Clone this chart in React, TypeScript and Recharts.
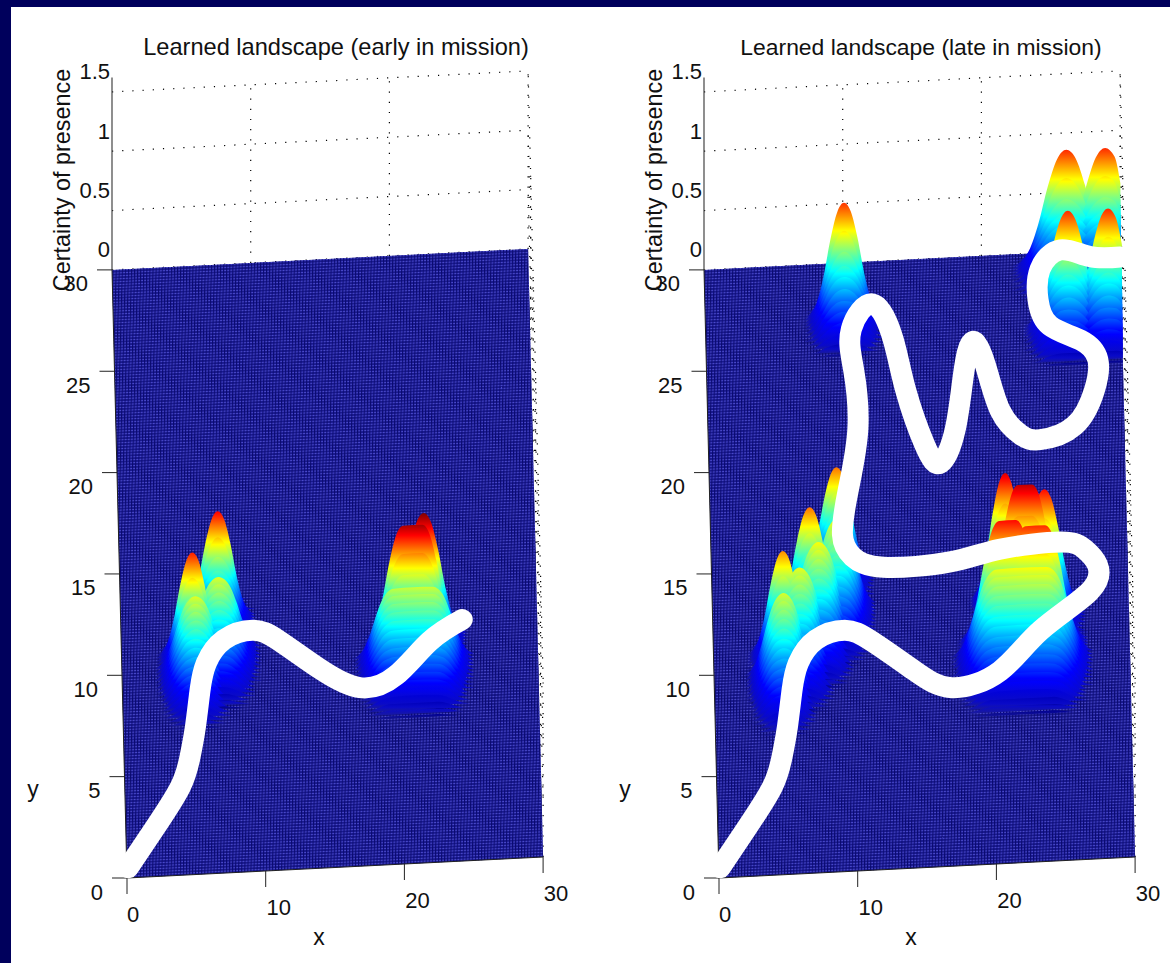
import React from 'react';
import { ComposedChart, Area, Line, XAxis, YAxis, ReferenceDot } from 'recharts';

// ---- axis ticks (landscape units) ----
const xTicks = [0, 10, 20, 30];
const yTicks = [0, 5, 10, 15, 20, 25, 30];
const zTicks = [0, 0.5, 1, 1.5];

// ---- robot paths (x, y on the floor) ----
const pathEarly = [
  [0.1, 0.5], [2.1, 2.4], [4.0, 4.35], [4.75, 5.8], [5.2, 7.3], [5.6, 9.1], [6.1, 10.4], [7.4, 11.5], [9.5, 11.9],
  [11.4, 11.3], [14.3, 9.8], [17.1, 8.8], [19.7, 9.3], [22.2, 10.9], [24.6, 11.9],
];
const pathLate = [
  [0.1, 0.5], [2.1, 2.4], [4.0, 4.35], [4.75, 5.8], [5.2, 7.3], [5.6, 9.1], [6.1, 10.4], [7.4, 11.5], [9.5, 11.9],
  [11.4, 11.3], [14.3, 9.8], [17.1, 8.8], [20.6, 9.5], [23.6, 11.4], [27.2, 13.2], [27.8, 14.5], [26.9, 15.3],
  [25.2, 15.7], [20.8, 15.5], [17.2, 15.0], [12.4, 14.9], [10.2, 15.5], [9.5, 16.6], [10.0, 18.8], [10.8, 21.8],
  [10.6, 24.7], [10.5, 26.7], [12.1, 27.9], [13.5, 26.1], [14.3, 23.6], [15.6, 20.8], [16.7, 19.9], [17.8, 21.5],
  [18.5, 24.2], [19.2, 25.8], [20.1, 24.6], [21.1, 22.3], [22.5, 21.1], [23.9, 20.8], [26.4, 21.4], [27.9, 23.1],
  [28.2, 24.6], [27.0, 25.6], [24.8, 26.4], [24.0, 27.7], [24.2, 29.2], [25.7, 30.1], [27.8, 29.7], [30.0, 29.6],
];

// ---- height profiles read from the hills: [y offset, heights at |x offset|] ----
const peakDx = [0, 0.5, 1, 1.5, 2, 2.5, 3];
const peakRows = [
  [1.0, 0.08, 0.06, 0.03, 0.01, 0, 0, 0],
  [0.75, 0.2, 0.16, 0.09, 0.03, 0.01, 0, 0],
  [0.5, 0.42, 0.36, 0.22, 0.08, 0.02, 0, 0],
  [0.25, 0.75, 0.66, 0.44, 0.2, 0.06, 0.01, 0],
  [0, 1, 0.92, 0.68, 0.36, 0.13, 0.03, 0],
  [-0.15, 0.78, 0.72, 0.56, 0.33, 0.14, 0.04, 0],
  [-0.3, 0.62, 0.58, 0.47, 0.3, 0.14, 0.04, 0],
  [-0.45, 0.52, 0.49, 0.41, 0.27, 0.13, 0.04, 0],
  [-0.6, 0.45, 0.43, 0.36, 0.24, 0.12, 0.03, 0],
  [-0.8, 0.38, 0.36, 0.3, 0.2, 0.1, 0.03, 0],
  [-1.0, 0.31, 0.3, 0.25, 0.17, 0.08, 0.02, 0],
  [-1.2, 0.25, 0.24, 0.2, 0.14, 0.06, 0.02, 0],
  [-1.4, 0.19, 0.18, 0.15, 0.1, 0.05, 0.01, 0],
  [-1.6, 0.13, 0.12, 0.1, 0.07, 0.03, 0, 0],
  [-1.8, 0.07, 0.07, 0.06, 0.04, 0.01, 0, 0],
  [-2.0, 0.02, 0.02, 0.02, 0.01, 0, 0, 0],
];
const domeDx = [0, 0.5, 1, 1.5, 2, 2.5, 3, 3.5];
const domeRows = [
  [0, 1, 0.96, 0.84, 0.62, 0.36, 0.16, 0.05, 0],
  [-0.19, 0.95, 0.91, 0.8, 0.6, 0.36, 0.17, 0.05, 0],
  [-0.38, 0.89, 0.85, 0.75, 0.57, 0.35, 0.17, 0.05, 0],
  [-0.56, 0.82, 0.79, 0.7, 0.53, 0.34, 0.16, 0.05, 0],
  [-0.75, 0.75, 0.72, 0.64, 0.49, 0.32, 0.15, 0.04, 0],
  [-0.94, 0.67, 0.65, 0.58, 0.44, 0.29, 0.14, 0.04, 0],
  [-1.13, 0.6, 0.58, 0.51, 0.4, 0.26, 0.12, 0.03, 0],
  [-1.31, 0.52, 0.5, 0.45, 0.35, 0.22, 0.1, 0.02, 0],
  [-1.5, 0.45, 0.43, 0.39, 0.3, 0.18, 0.08, 0.01, 0],
  [-1.69, 0.38, 0.37, 0.33, 0.25, 0.15, 0.06, 0.01, 0],
  [-1.88, 0.32, 0.31, 0.27, 0.2, 0.12, 0.04, 0, 0],
  [-2.06, 0.26, 0.25, 0.22, 0.16, 0.09, 0.03, 0, 0],
  [-2.25, 0.2, 0.19, 0.17, 0.12, 0.06, 0.02, 0, 0],
  [-2.44, 0.15, 0.14, 0.12, 0.08, 0.04, 0.01, 0, 0],
  [-2.63, 0.1, 0.1, 0.08, 0.05, 0.02, 0, 0, 0],
  [-2.81, 0.06, 0.06, 0.05, 0.03, 0.01, 0, 0, 0],
  [-3, 0.03, 0.03, 0.02, 0.01, 0, 0, 0, 0],
];

// ---- hills: [kind, x, y, height, width factor, half length of the flat top] ----
type Hill = [string, number, number, number, number, number?];
const hillsEarly: Hill[] = [
  ['peak', 7, 12.7, 0.88, 0.92], ['peak', 5.1, 10.9, 0.85, 0.88],
  ['dome', 7, 11.1, 0.6, 0.88], ['dome', 5.3, 10.2, 0.6, 0.85],
  ['peak', 21, 11.05, 0.96, 1.0, 0.7], ['peak', 21.8, 11.4, 1, 1.05],
  ['dome', 21, 10.2, 0.58, 0.85, 1.4],
];
const hillsLate: Hill[] = [
  ['peak', 10, 27.4, 0.95, 0.98],
  ['peak', 26.1, 29.4, 0.96, 1.35], ['peak', 28.9, 29.4, 0.96, 1.35],
  ['peak', 26.1, 26.4, 0.96, 1.1], ['peak', 29, 26.4, 0.96, 1.1],
  ['peak', 9, 14.8, 0.88, 0.92], ['peak', 7, 12.9, 0.88, 0.92], ['peak', 5, 10.98, 0.85, 0.88],
  ['dome', 9, 13.2, 0.72, 0.8], ['dome', 7.6, 12.1, 0.72, 0.85], ['dome', 6.2, 11, 0.7, 0.85], ['dome', 5, 9.9, 0.68, 0.8],
  ['peak', 21.1, 13.1, 1.05, 0.9], ['peak', 22.5, 12.3, 1.08, 1, 0.5], ['peak', 23.9, 12.5, 1, 1],
  ['peak', 21.2, 11.05, 1.0, 1.05, 0.6], ['peak', 23.2, 10.95, 0.96, 1.05, 0.7],
  ['dome', 22.2, 10.3, 0.72, 0.95, 1.8],
];

const PANEL_W = 592;
const PANEL_H = 963;
const FONT = '"Liberation Sans", Arial, sans-serif';
const PLANE = '#1b1b98';

const project = (x: number, y: number, z = 0) => ({
  sx: 127 + 13.87 * x - 0.5 * y,
  sy: 878 - 0.7 * x - 20.27 * y - 118.7 * z,
});

const jet = (t: number) => {
  const c = (v: number) => Math.round(255 * Math.max(0, Math.min(1, v)));
  const r = 1.5 - Math.abs(4 * t - 3);
  const g = 1.5 - Math.abs(4 * t - 2);
  const b = 1.5 - Math.abs(4 * t - 1);
  return `rgb(${c(r)},${c(g)},${c(b)})`;
};

function buildRibbons(hills: Hill[], prefix: string) {
  const out: any[] = [];
  hills.forEach(([kind, hx, hy, amp, wx, flat = 0], h) => {
    const half = kind === 'peak' ? peakDx : domeDx;
    const rows = kind === 'peak' ? peakRows : domeRows;
    const n = half.length;
    rows.forEach((row, r) => {
      const Y = hy + row[0];
      if (Y > 30) return;
      const pts: any[] = [];
      let zMax = 0;
      let done = false;
      const add = (X0: number, col: number) => {
        if (done) return;
        let X = X0;
        if (X >= 30) { X = 30; done = true; }
        const z = row[col + 1] * amp;
        zMax = Math.max(zMax, z);
        const top = project(X, Y, z);
        const base = project(X, Y, 0);
        pts.push({ sx: top.sx, range: [top.sy, base.sy] });
      };
      for (let i = n - 1; i >= 0; i--) add(hx - flat - half[i] * wx, i);
      for (let i = flat > 0 ? 0 : 1; i < n; i++) add(hx + flat + half[i] * wx, i);
      if (zMax > 0) out.push({ id: `${prefix}-${h}-${r}`, Y, pts, zMax });
    });
  });
  out.sort((a, b) => b.Y - a.Y);
  return out;
}

function gradientStops(zMax: number, cmax: number) {
  const stops: { offset: number; color: string }[] = [];
  const marks = [0, 0.03, 0.125, 0.25, 0.375, 0.5, 0.625, 0.75, 0.875, 1];
  stops.push({ offset: 0, color: jet(zMax / cmax) });
  [...marks].reverse().forEach((t) => {
    const z = t * cmax;
    if (z < zMax) {
      const color = t === 0 ? PLANE : t === 0.03 ? 'rgb(10,10,200)' : jet(t);
      stops.push({ offset: 1 - z / zMax, color });
    }
  });
  return stops;
}

const seg = (pts: number[][]) => pts.map(([x, y, z]) => project(x, y, z ?? 0));

const TextMark = ({ cx, cy, text, anchor = 'middle', angle = 0, size = 22 }: any) => (
  <text
    x={cx}
    y={cy}
    textAnchor={anchor}
    dominantBaseline="central"
    fontFamily={FONT}
    fontSize={size}
    fill="#111"
    transform={angle ? `rotate(${angle} ${cx} ${cy})` : undefined}
  >
    {text}
  </text>
);

function Panel({ title, titleX, titleSize, hills, path, cmax, id }: any) {
  const ribbons = buildRibbons(hills, id);
  const lineProps = { dataKey: 'sy', dot: false, isAnimationActive: false, legendType: 'none' as const, activeDot: false };

  const grid: any[][] = [];
  zTicks.forEach((z) => grid.push(seg([[0, 30, z], [30, 30, z]])));
  [10, 20].forEach((x) => grid.push(seg([[x, 30, 0], [x, 30, 1.5]])));
  zTicks.slice(1).forEach((z) => grid.push(seg([[30, 0, z], [30, 30, z]])));
  yTicks.forEach((y) => grid.push(seg([[30, y, 0], [30, y, 1.5]])));

  const tl = project(0, 30), bl = project(0, 0), tr = project(30, 30), br = project(30, 0);
  const topAt = (s: number) => tl.sy + ((tr.sy - tl.sy) * (s - tl.sx)) / (tr.sx - tl.sx);
  const botAt = (s: number) => bl.sy + ((br.sy - bl.sy) * (s - bl.sx)) / (br.sx - bl.sx);
  const leftAt = (s: number) => tl.sy + ((bl.sy - tl.sy) * (s - tl.sx)) / (bl.sx - tl.sx);
  const rightAt = (s: number) => tr.sy + ((br.sy - tr.sy) * (s - tr.sx)) / (br.sx - tr.sx);
  const planeData = [
    { sx: tl.sx, range: [tl.sy, tl.sy] },
    { sx: bl.sx, range: [topAt(bl.sx), leftAt(bl.sx)] },
    { sx: tr.sx, range: [tr.sy, botAt(tr.sx)] },
    { sx: br.sx, range: [rightAt(br.sx), br.sy] },
  ];

  const tick = (a: any, dx: number, dy: number) => [a, { sx: a.sx + dx, sy: a.sy + dy }];
  const areaProps = { dataKey: 'range', fillOpacity: 1, stroke: 'none', isAnimationActive: false, dot: false, activeDot: false };

  return (
    <ComposedChart width={PANEL_W} height={PANEL_H} margin={{ top: 0, right: 0, bottom: 0, left: 0 }} data={[]}>
      <XAxis dataKey="sx" type="number" domain={[0, PANEL_W]} hide />
      <YAxis type="number" domain={[0, PANEL_H]} reversed hide />
      <defs>
        <pattern id={`${id}-meshH`} patternUnits="userSpaceOnUse" width={40} height={2.93} patternTransform="skewY(-2.87)">
          <rect x={0} y={0} width={40} height={1} fill="#4a4acc" />
        </pattern>
        <pattern id={`${id}-meshV`} patternUnits="userSpaceOnUse" width={3.07} height={40} patternTransform="skewX(-1.5)">
          <rect x={0} y={0} width={1} height={40} fill="#0a0a70" />
        </pattern>
        {ribbons.map((r) => (
          <linearGradient key={r.id} id={r.id} x1="0" y1="0" x2="0" y2="1">
            {gradientStops(r.zMax, cmax).map((s, i) => (
              <stop key={i} offset={s.offset} stopColor={s.color} />
            ))}
          </linearGradient>
        ))}
      </defs>

      {grid.map((d, i) => (
        <Line key={`g${i}`} data={d} {...lineProps} stroke="#000" strokeWidth={1.2} strokeDasharray="1.2 9" zIndex={10} />
      ))}
      <Area data={planeData} {...areaProps} type="linear" fill="#19198f" zIndex={20} />
      <Area data={planeData} {...areaProps} type="linear" fill={`url(#${id}-meshH)`} zIndex={21} />
      <Area data={planeData} {...areaProps} type="linear" fill={`url(#${id}-meshV)`} zIndex={22} />
      {ribbons.map((r) => (
        <Area key={r.id} data={r.pts} {...areaProps} type="monotone" fill={`url(#${r.id})`} zIndex={30} />
      ))}

      <Line data={seg([[0, 0], [30, 0]])} {...lineProps} stroke="#222" strokeWidth={1} zIndex={40} />
      <Line data={seg([[0, 0], [0, 30]])} {...lineProps} stroke="#222" strokeWidth={1} zIndex={40} />
      <Line data={seg([[0, 30, 0], [0, 30, 1.62]])} {...lineProps} stroke="#444" strokeWidth={1.2} zIndex={40} />
      {xTicks.map((x) => (
        <Line key={`xt${x}`} data={tick(project(x, 0), 0, 16)} {...lineProps} stroke="#222" strokeWidth={1} zIndex={40} />
      ))}
      {yTicks.map((y) => (
        <Line key={`yt${y}`} data={tick(project(0, y), -15, 0)} {...lineProps} stroke="#222" strokeWidth={1} zIndex={40} />
      ))}

      <Line data={path.map(([x, y]: number[]) => project(x, y))} {...lineProps} type="natural" stroke="#fff" strokeWidth={21} strokeLinecap="round" strokeLinejoin="round" zIndex={50} />

      {xTicks.map((x) => {
        const p = project(x, 0);
        return (
          <ReferenceDot key={`xl${x}`} x={p.sx + (x === 0 ? 6 : 13)} y={p.sy + 36} r={0} zIndex={60}
            shape={(s: any) => <TextMark {...s} text={String(x)} />} />
        );
      })}
      {yTicks.map((y) => {
        const p = project(0, y);
        return (
          <ReferenceDot key={`yl${y}`} x={p.sx - 24} y={p.sy + 14} r={0} zIndex={60}
            shape={(s: any) => <TextMark {...s} text={String(y)} anchor="end" />} />
        );
      })}
      {zTicks.map((z) => {
        const p = project(0, 30, z);
        return (
          <ReferenceDot key={`zl${z}`} x={p.sx - 2} y={p.sy - 20} r={0} zIndex={60}
            shape={(s: any) => <TextMark {...s} text={String(z)} anchor="end" />} />
        );
      })}
      <ReferenceDot x={titleX} y={47} r={0} zIndex={60} shape={(s: any) => <TextMark {...s} text={title} size={titleSize} />} />
      <ReferenceDot x={319} y={937} r={0} zIndex={60} shape={(s: any) => <TextMark {...s} text="x" size={23} />} />
      <ReferenceDot x={33} y={789} r={0} zIndex={60} shape={(s: any) => <TextMark {...s} text="y" size={23} />} />
      <ReferenceDot x={62} y={180} r={0} zIndex={60} shape={(s: any) => <TextMark {...s} text="Certainty of presence" angle={-90} size={23.4} />} />
    </ComposedChart>
  );
}

export default function App() {
  return (
    <div style={{ position: 'absolute', left: 0, top: 0, width: 1170, height: 963, background: '#00005c', overflow: 'hidden' }}>
      <div style={{ position: 'absolute', left: 11, top: 7, width: 1159, height: 956, background: '#fff' }} />
      <div style={{ position: 'absolute', left: 0, top: 0 }}>
        <Panel id="early" title="Learned landscape (early in mission)" titleX={336} titleSize={23.6} hills={hillsEarly} path={pathEarly} cmax={1.0} />
      </div>
      <div style={{ position: 'absolute', left: 592, top: 0 }}>
        <Panel id="late" title="Learned landscape (late in mission)" titleX={329} titleSize={22.9} hills={hillsLate} path={pathLate} cmax={1.15} />
      </div>
    </div>
  );
}
